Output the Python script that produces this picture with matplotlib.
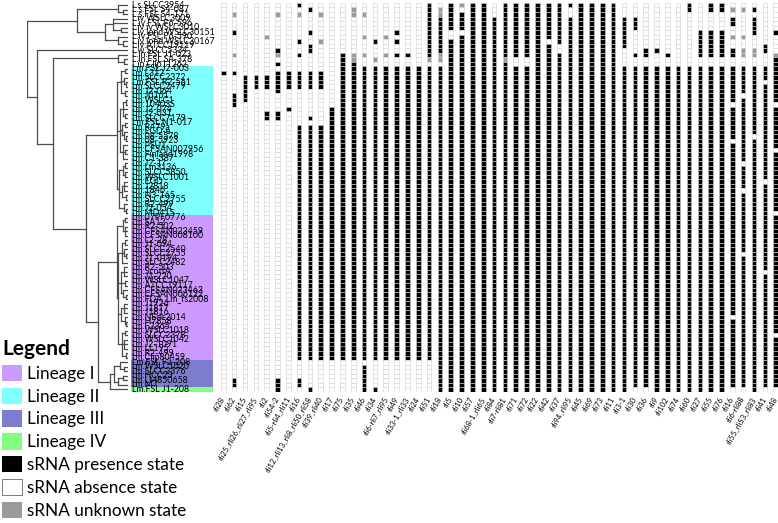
import numpy as np
import matplotlib
matplotlib.use("Agg")
import matplotlib.pyplot as plt
from matplotlib.patches import Patch, Rectangle

plt.rcParams['font.family'] = ['Lato', 'DejaVu Sans']

# --- strain labels (top to bottom, same order as the tree leaves) ---
other_strains = ["L.s.SLCC3954", "L.s.FSL S4-087", "L.s.FSL S4-171", "L.iv.WSLC3009",
                 "L.iv.FSL F6-596", "L.iv.iv.WSLC3010", "L.iv.lond.WSLC30151", "L.iv.FSL F6-590",
                 "L.iv.lond.WSLC30167", "L.iv.ATCC19119", "L.w.SLCC5334", "L.in.FSL J1-023",
                 "L.in.FSL S4-378", "L.in.Clip11262"]
lineage2_strains = ["Lm.FSL J2-003", "Lm.L312", "Lm.SLCC2372", "Lm.FSL R2-561", "Lm.SLCC2479",
                    "Lm.J2-064", "Lm.J0161", "Lm.WSLC1", "Lm.10403S", "Lm.J2-074", "Lm.J2-031",
                    "Lm.SLCC7179", "Lm.FSL N1-017", "Lm.R479a", "Lm.EGD-e", "Lm.08-5578",
                    "Lm.08-5923", "Lm.PSU1", "Lm.CFSAN007956", "Lm.Finland1998", "Lm.C1-387",
                    "Lm.J2-1?", "Lm.Lm3136", "Lm.SLCC5850", "Lm.WSLC1001", "Lm.EGD", "Lm.J2818",
                    "Lm.1846", "Lm.N3-165", "Lm.SLCC2755", "Lm.R2-499", "Lm.J2-054", "Lm.MD415"]
lineage1_strains = ["Lm.07PF0776", "Lm.SA12", "Lm.R2-502", "Lm.CFSAN023459", "Lm.CFSAN008100",
                    "Lm.L2-28", "Lm.J1-094", "Lm.SLCC2540", "Lm.SLCC2755", "Lm.J1-0194",
                    "Lm.SLCC2482", "Lm.R2-503", "Lm.ScottA", "Lm.J1-220", "Lm.WSLC1047",
                    "Lm.ATCC19117", "Lm.CFSAN023463", "Lm.CFSAN006122", "Lm.FDA_Lm_fs2008",
                    "Lm.J1926", "Lm.J1817", "Lm.J1816", "Lm.NEdc2014", "Lm.H7858", "Lm.F2365",
                    "Lm.WSLC1018", "Lm.SLCC2378", "Lm.WSLC1042", "Lm.J2-1091", "Lm.LL195",
                    "Lm.R2-499", "Lm.Clip80459"]
lineage3_strains = ["Lm.FSL F2-208", "Lm.WSLC1020", "Lm.SLCC2376", "Lm.HCC23", "Lm.LM850658", "Lm.M7"]
lineage4_strains = ["Lm.FSL J1-208"]

# --- sRNA columns ---
srna_names = ["rli28", "rli62", "rli15", "rli25_rli26_rli27_rli95", "rli2", "rli54-2",
              "rli5-rli4_rli11", "rli16", "rli12_rli13_rli8_rli50_rli58", "rli39_rli40", "rli17",
              "rli75", "rli35", "rli46", "rli34", "rli6-rli7_rli95", "rli49", "rli33-1_rli33",
              "rli24", "rli51", "rli18", "rli5", "rli10", "rli57", "rli68-1_rli65", "rli84",
              "rli7-rli81", "rli71", "rli72", "rli22", "rli42", "rli37", "rli94_rli95", "rli45",
              "rli69", "rli73", "rli11", "rli3-1", "rli30", "rli36", "rli9", "rli102", "rli74",
              "rli60", "rli27", "rli55", "rli76", "rli16", "rli6-rli88", "rli55_rli53_rli83",
              "rli41", "rli48"]

# states per sRNA column (1 present, 0 absent, 2 unknown), one string per column
states_other = [
    "0000000 0000000", "0020001 0000200", "0000000 0000000", "0000000 0000000",
    "0000000 2000000", "0020000 0001201", "0000000 0000000", "1020000 0100100",
    "0100001 0011000", "0020000 0200000", "0000000 0000000", "0000000 0000111",
    "0220000 0000221", "0020000 2000200", "0000000 0100020", "0000000 2000200",
    "0000001 0100100", "0000000 0000100", "0000000 0000000", "1111111 1111120",
    "0221111 1111220", "1111110 0111111", "2011110 1111111", "1111111 1111111",
    "1111111 1111111", "0001111 1111111", "1111111 1111121", "1111111 1111100",
    "1111111 1111100", "1111111 1111111", "1111111 1011111", "1111111 1100111",
    "1001111 1111111", "1111111 1111111", "1111111 1111111", "1111111 1111111",
    "1111111 1111111", "0001111 1110000", "0001110 0000100", "0000000 0001100",
    "0000000 0001000", "0000000 0000100", "0000000 0000000", "1100000 0000000",
    "0000001 1111100", "1100001 1111100", "1100001 1111100", "0201100 2001100",
    "0200000 2002200", "0101111 0002200", "0000000 0011000", "0000001 0000211",
]
states_lin2 = [
    "01000000000 00000000000 00000000000", "01000011100 00000000000 00000000000",
    "00111111000 00000000000 00000000000", "00111000000 00000000000 00000000000",
    "00111000001 10000000000 00000000000", "01111100001 10000000000 00000000000",
    "01111000010 00000000000 00000000000", "01111000000 00111111111 11111111111",
    "01111000000 10111111111 11111111111", "01111000000 00111111111 11111111111",
    "00000000011 11111111111 11111111111", "11111111111 11111111111 11111111111",
    "11111111111 11111111111 11111111111", "11111111111 11111111111 11111111111",
    "11111111111 11111111111 11111111111", "11111111111 11111111111 11111111111",
    "11111111111 11111111111 11111111111", "11111111111 11111111111 11111111111",
    "11111111111 11111111111 11111111111", "11111111111 11111111111 11111111111",
    "11111111111 11111111111 11111111111", "11111111111 11111111111 11111111111",
    "11111111111 11111111111 11111111111", "11111111111 11111111111 11111111111",
    "11111111111 11111111111 11111111111", "11111111111 11111111111 11111111111",
    "11111111111 11111111111 11111111111", "11111111111 11111111111 11111111111",
    "11111111111 11111111111 11111111111", "11111111111 11111111111 11111111111",
    "11111111111 11111111111 11111111111", "11111111111 11111111111 11111111111",
    "11111111111 11111111111 11111111111", "11111111111 11111111111 11111111111",
    "11111111111 11111111111 11111111111", "11111111111 11111111111 11111111111",
    "11111111111 11111111111 11111111111", "11111111111 11111111111 11111111111",
    "11111111111 11111111111 11111111111", "11111111111 11111111111 11111111111",
    "11111111111 11111111111 11111111111", "11111111111 11111111111 11111111111",
    "11111111111 11111111111 11111111111", "11111111111 11111111111 11111111111",
    "11111111111 11111111111 11111111111", "11111111111 11111111111 11111111111",
    "11111111111 11111111111 11111111111", "11111111011 11111011111 11111111111",
    "11111101111 11111111110 11111011111", "11111111111 11110111111 11111111111",
    "11101111111 11111111111 11101111111", "11111111011 11111110111 11111111110",
]
states_lin1 = [
    "0000000000000000 0000000000000000", "0000000000000000 0000000000000000",
    "0000000000000000 0000000000000000", "0000000000000000 0000000000000000",
    "0000000000000000 0000000000000000", "0000000000000000 0000000000000000",
    "0000000000000000 0000000000000000", "1111111111111111 1111111111111111",
    "1111111111111111 1111111111111111", "1111111111111111 1111111111111111",
    "1111111111111111 1111111111111111", "1111111111111111 1111111111111111",
    "1111111111111111 1111111111111111", "1111111111111111 1111111111111111",
    "1111111111111111 1111111111111111", "1111111111111111 1111111111111111",
    "1111111111111111 1111111111111111", "1111111111111111 1111111111111111",
    "1111111111111111 1111111111111111", "1111111111111111 1111111111111111",
    "1111111111111111 1111111111111111", "1111111111111111 1111111111111111",
    "1111111111111111 1111111111111111", "1111111111111111 1111111111111111",
    "1111111111111111 1111111111111111", "1111111111111111 1111111111111111",
    "1111111111111111 1111111111111111", "1111111111111111 1111111111111111",
    "1111111111111111 1111111111111111", "1111111111111111 1111111111111111",
    "1111111111111111 1111111111111111", "1111111111111111 1111111111111111",
    "1111111111111111 1111111111111111", "1111111111111111 1111111111111111",
    "1111111111111111 1111111111111111", "1111111111111111 1111111111111111",
    "1111111111111111 1111111111111111", "1111111111111111 1111111111111111",
    "1111111111111111 1111111111111111", "1111111111111111 1111111111111111",
    "1111111111111111 1111111111111111", "1111111111111111 1111111111111111",
    "1111111111111111 1111111111111111", "1111111111111111 1111111111111111",
    "1111111111111111 1111111111111111", "1111111111111111 1111111111111111",
    "1111111111111111 1111111111111111", "1111111111111111 1111110111111111",
    "1111111101111111 1111111111111111", "1111111111111111 1111111111111111",
    "1111111111110111 1111111111111111", "1111111111111111 1111111111011111",
]
states_lin3 = [
    "000000", "000011", "000000", "000000", "000000", "000011", "000000", "000011",
    "000000", "000000", "000000", "000000", "000000", "011111", "000000", "000000",
    "000000", "000000", "000000", "000000", "111111", "111111", "111111", "111111",
    "111111", "111111", "111111", "111111", "111111", "111111", "111111", "111111",
    "111111", "111111", "111111", "111111", "111111", "111111", "111111", "111111",
    "111111", "111111", "111111", "111111", "111111", "111111", "111111", "111111",
    "111111", "111111", "111111", "111111",
]
# lineage IV: one strain, one character per sRNA column
states_lin4 = "00000100100001100000 111111111111111111001111111001 00"

# --- dendrogram: [node height, children...]; integers are leaf rows ---
lin2_tree = [0.89,
             [0.935, [0.975, 14, 15], [0.96, 16, [0.985, 17, 18]], [0.97, 19, 20]],
             [0.92, [0.955, [0.98, 21, 22], 23, [0.975, 24, 25]],
              [0.945, [0.97, 26, 27], [0.965, 28, [0.985, 29, 30]]],
              [0.95, 31, [0.975, 32, 33], 34]],
             [0.915, [0.95, [0.975, 35, 36], [0.97, 37, 38]],
              [0.94, [0.965, 39, 40, 41], [0.98, 42, 43]],
              [0.96, 44, [0.985, 45, 46]]]]
lin1_tree = [0.89,
             [0.95, [0.975, 47, 48], [0.97, 49, 50, 51]],
             [0.905, [0.94, [0.97, 52, 53], [0.965, 54, [0.985, 55, 56]], 57],
              [0.93, [0.96, 58, 59, 60], [0.975, 61, 62], [0.955, 63, [0.98, 64, 65]]],
              [0.935, [0.965, 66, 67, 68], [0.97, 69, [0.985, 70, 71]]],
              [0.945, [0.975, 72, 73], [0.96, 74, 75, 76], [0.98, 77, 78]]]]
lin3_tree = [0.86, [0.92, 79, [0.96, 80, 81]], [0.9, [0.95, 82, 83], 84]]
tree = [0.0,
        [0.495, [0.9, 0, [0.95, 1, 2]], [0.77, [0.85, 3, 4, [0.93, 5, 6]], [0.9, 7, [0.95, 8, 9]]]],
        [0.1, 10, [0.257, [0.9, 11, [0.96, 12, 13]],
                   [0.584, lin2_tree, [0.70, lin1_tree, [0.82, lin3_tree, 85]]]]]]

lineage_colors = {"Lineage I": "#cc99ff", "Lineage II": "#80ffff",
                  "Lineage III": "#7d7dcf", "Lineage IV": "#80ff80"}
state_colors = ["white", "black", "#9b9b9b"]

# --- assemble matrix ---
strains = other_strains + lineage2_strains + lineage1_strains + lineage3_strains + lineage4_strains
lin4 = states_lin4.replace(" ", "")
columns = []
for j in range(len(srna_names)):
    col = (states_other[j] + states_lin2[j] + states_lin1[j] + states_lin3[j]).replace(" ", "") + lin4[j]
    columns.append([int(ch) for ch in col])
state = np.array(columns)
n_cols, n_rows = state.shape

W, H = 778, 523
fig = plt.figure(figsize=(W / 100, H / 100), dpi=100)
row_px, col_px, top_px = 4.52, 10.83, 3
bottom = 1 - (top_px + n_rows * row_px) / H
height = n_rows * row_px / H

# matrix
ax_m = fig.add_axes([217.9 / W, bottom, n_cols * col_px / W, height])
xs, ys = np.meshgrid(np.arange(n_cols), np.arange(n_rows), indexing='ij')
cell_colors = np.array(state_colors)[state]
ax_m.scatter(xs.ravel(), ys.ravel() + 0.5, marker='s', s=11, c=cell_colors.ravel(),
             edgecolors='#d2d2d2', linewidths=0.4)
ax_m.set_xlim(-0.5, n_cols - 0.5)
ax_m.set_ylim(n_rows, 0)
ax_m.set_xticks(np.arange(n_cols))
ax_m.set_xticklabels(srna_names, rotation=60, ha='right', va='center',
                     rotation_mode='anchor', fontsize=5.5)
ax_m.tick_params(length=0, pad=4)
ax_m.set_yticks([])
for s in ax_m.spines.values():
    s.set_visible(False)

# tree
ax_t = fig.add_axes([27 / W, bottom, 101 / W, height])
ax_t.set_xlim(0, 1)
ax_t.set_ylim(n_rows, 0)
ax_t.axis('off')

def draw(node, parent_h):
    if isinstance(node, int):
        y = node + 0.5
        ax_t.plot([parent_h, 1.0], [y, y], color='#4d4d4d', lw=0.9, solid_capstyle='butt')
        return y
    h = node[0]
    ys_child = [draw(c, h) for c in node[1:]]
    mid = (min(ys_child) + max(ys_child)) / 2
    ax_t.plot([h, h], [min(ys_child), max(ys_child)], color='#4d4d4d', lw=0.9)
    ax_t.plot([parent_h, h], [mid, mid], color='#4d4d4d', lw=0.9)
    return mid

draw(tree, tree[0])

# lineage colour boxes behind the labels
start = len(other_strains)
for name, group in [("Lineage II", lineage2_strains), ("Lineage I", lineage1_strains),
                    ("Lineage III", lineage3_strains), ("Lineage IV", lineage4_strains)]:
    ax_t.add_patch(Rectangle((1.03, start), 0.81, len(group), facecolor=lineage_colors[name],
                             edgecolor='none', clip_on=False, zorder=0))
    start += len(group)

for i, name in enumerate(strains):
    ax_t.text(1.035, i + 0.5, name, fontsize=6.3, va='center', ha='left', clip_on=False)

# legend
handles = [Patch(facecolor=lineage_colors[k], label=k) for k in
           ["Lineage I", "Lineage II", "Lineage III", "Lineage IV"]]
handles += [Patch(facecolor='black', label='sRNA presence state'),
            Patch(facecolor='white', edgecolor='#666666', linewidth=0.6, label='sRNA absence state'),
            Patch(facecolor=state_colors[2], label='sRNA unknown state')]
fig.legend(handles=handles, loc='upper left', bbox_to_anchor=(2 / W, 1 - 339 / H),
           frameon=False, title='Legend', title_fontproperties={'weight': 'bold', 'size': 15},
           alignment='left', fontsize=12.3, handlelength=1.15, handleheight=1.1,
           labelspacing=0.34, handletextpad=0.3, borderpad=0, borderaxespad=0)

fig.savefig('out.png', dpi=100)
